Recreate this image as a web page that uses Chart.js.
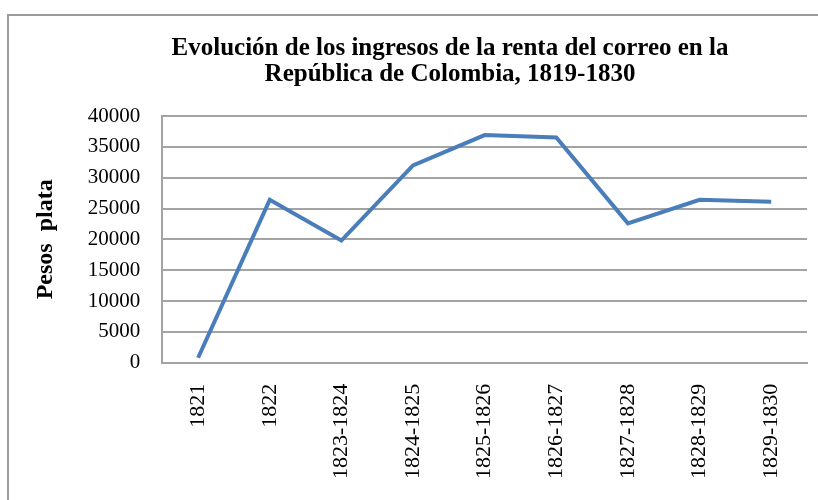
<!DOCTYPE html>
<html>
<head>
<meta charset="utf-8">
<script src="https://cdn.jsdelivr.net/npm/chart.js@4"></script>
<style>
  html, body { margin: 0; padding: 0; background: #fff; overflow: hidden; }
  #frame {
    position: absolute; left: 7px; top: 14px;
    width: 882px; height: 486px;
    border-top: 2px solid #9c9c9c; border-left: 2px solid #9c9c9c;
  }
  #chartBox { position: relative; width: 882px; height: 484px; }
</style>
</head>
<body>
<div id="frame"><div id="chartBox"><canvas id="rentaChart"></canvas></div></div>
<script>
  const periodos = ['1821', '1822', '1823-1824', '1824-1825', '1825-1826', '1826-1827', '1827-1828', '1828-1829', '1829-1830'];
  const ingresos = [800, 26400, 19800, 32000, 36900, 36500, 22600, 26400, 26100];
  const yTicks = [0, 5000, 10000, 15000, 20000, 25000, 30000, 35000, 40000];
  const tituloLineas = ['Evolución de los ingresos de la renta del correo en la', 'República de Colombia, 1819-1830'];

  const serif = 'Liberation Serif, Times New Roman, serif';
  const gridGray = '#a3a3a3';

  // the title is centred on the whole picture, not on the padded chart box
  const chartTitle = {
    id: 'chartTitle',
    afterDraw(c) {
      const g = c.ctx;
      g.save();
      g.fillStyle = '#000';
      g.font = 'bold 25px ' + serif;
      g.textAlign = 'center';
      g.textBaseline = 'middle';
      tituloLineas.forEach((t, i) => g.fillText(t, 441, 33 + i * 26));
      g.restore();
    }
  };

  const ctx = document.getElementById('rentaChart').getContext('2d');
  const chart = new Chart(ctx, {
    type: 'line',
    data: {
      labels: periodos,
      datasets: [{
        label: 'Ingresos',
        data: ingresos,
        borderColor: '#4a7ebb',
        borderWidth: 4,
        pointRadius: 0,
        tension: 0,
        fill: false
      }]
    },
    plugins: [chartTitle],
    options: {
      responsive: true,
      maintainAspectRatio: false,
      animation: false,
      layout: { padding: { left: 22, right: 84, top: 100, bottom: 0 } },
      plugins: {
        legend: { display: false },
        tooltip: { enabled: false },
        title: { display: false }
      },
      scales: {
        x: {
          offset: true,
          grid: { display: false, drawTicks: false },
          border: { display: true, color: gridGray, width: 2 },
          ticks: {
            color: '#000',
            font: { family: serif, size: 22 },
            minRotation: 90,
            maxRotation: 90,
            padding: 21,
            autoSkip: false
          }
        },
        y: {
          min: 0,
          max: 40000,
          afterBuildTicks: axis => { axis.ticks = yTicks.map(v => ({ value: v })); },
          grid: { color: gridGray, lineWidth: 2, drawTicks: false },
          border: { display: true, color: gridGray, width: 2 },
          ticks: {
            color: '#000',
            font: { family: serif, size: 21 },
            padding: 22,
            callback: v => String(v)
          },
          title: {
            display: true,
            text: 'Pesos  plata',
            color: '#000',
            font: { family: serif, size: 24, weight: 'bold', lineHeight: 1.2 },
            padding: { top: 0, bottom: 6 }
          }
        }
      }
    }
  });
</script>
</body>
</html>
